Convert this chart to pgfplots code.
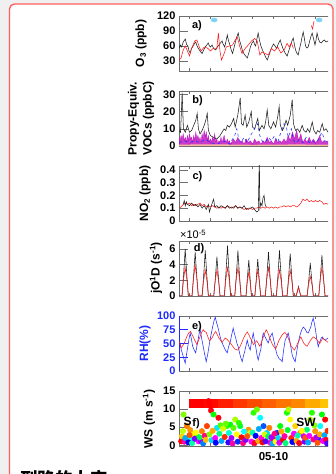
\documentclass[border=0pt]{standalone}
\usepackage{fontspec}
\setmainfont{Liberation Sans}
\newfontfamily\cjk{Noto Sans CJK SC}
\usepackage{pgfplots}
\pgfplotsset{compat=1.18}

\definecolor{pagegray}{HTML}{F0F0F0}
\definecolor{framered}{HTML}{FF5C5C}
\definecolor{axgray}{HTML}{6E6E6E}
\definecolor{obsblack}{HTML}{1E1E1E}
\definecolor{modred}{HTML}{FF1A1A}
\definecolor{vocmag}{HTML}{C21BC2}
\definecolor{vocpeach}{HTML}{F4B8A0}
\definecolor{flagblue}{HTML}{7FD3F2}
\definecolor{rhblue}{HTML}{1F2BFF}

\newcommand{\tickfont}{\fontsize{11}{12}\selectfont\bfseries}
\newcommand{\labfont}{\fontsize{12}{15}\selectfont\bfseries}

\pgfplotsset{
  colormap={winddir}{rgb255=(255,0,0) rgb255=(255,255,0) rgb255=(0,255,0)
    rgb255=(0,255,255) rgb255=(0,0,255) rgb255=(255,0,255) rgb255=(255,0,0)},
  panel/.style={
    scale only axis, width=162.75pt, height=55pt,
    anchor=south west,
    xmin=1, xmax=16.5,
    separate axis lines,
    axis line style={axgray, line width=0.5pt},
    xtick={2,4,...,16}, xticklabels={},
    tick align=inside,
    xtick style={axgray, line width=0.5pt, /pgfplots/major tick length=3pt},
    ytick style={axgray, line width=0.5pt, /pgfplots/major tick length=8.5pt},
    yticklabel style={font=\tickfont, text=black},
    xticklabel style={font=\tickfont},
    every axis plot/.append style={line width=0.55pt},
  },
}

\begin{document}
\begin{tikzpicture}
\useasboundingbox (0,0) rectangle (336pt,474pt);
\fill[pagegray] (0,0) rectangle (336pt,474pt);
\filldraw[fill=white, draw=framered, line width=1.3pt, rounded corners=5pt]
  (9.5pt,-20pt) rectangle (333pt,470pt);

\begin{scope}
\clip (0,0) rectangle (328pt,474pt);

% ---------- a) ozone ----------
\begin{axis}[panel, at={(179pt,403pt)}, ymin=10, ymax=120,
  ytick={30,60,90,120}, yticklabels={30,60,90,120}]
\addplot[obsblack] table {
1.00 55
1.12 62
1.25 58
1.40 68
1.60 74
1.72 63
1.85 60
1.95 50
2.07 46
2.18 55
2.30 58
2.45 64
2.60 68
2.72 60
2.85 55
3.00 50
3.20 45
3.35 52
3.50 58
3.65 62
3.78 66
3.90 60
4.00 58
4.15 62
4.30 55
4.50 52
4.65 58
4.80 62
4.95 66
5.10 70
5.22 63
5.35 58
5.48 70
5.60 82
5.72 70
5.85 62
5.97 52
6.10 45
6.22 55
6.35 66
6.50 78
6.64 86
6.76 72
6.90 62
7.05 50
7.20 44
7.35 40
7.50 36
7.65 46
7.80 58
7.95 66
8.10 70
8.20 63
8.30 60
8.42 74
8.54 86
8.66 72
8.80 60
8.95 52
9.10 45
9.25 38
9.40 32
9.55 40
9.70 50
9.85 58
10.00 64
10.15 60
10.30 55
10.45 64
10.64 72
10.78 62
10.90 55
11.10 46
11.30 40
11.45 50
11.60 60
11.75 70
11.88 76
12.00 62
12.10 52
12.22 46
12.35 42
12.48 55
12.60 65
12.72 78
12.83 88
12.95 74
13.05 60
13.18 56
13.30 58
13.42 68
13.55 78
13.68 86
13.80 76
13.95 62
14.05 72
14.15 86
14.28 74
14.40 68
14.55 66
14.70 70
14.85 72
15.00 68
15.20 70
15.50 68
};
\addplot[modred] table {
1.00 32
1.20 36
1.40 52
1.60 60
1.80 50
2.00 40
2.20 55
2.50 70
2.70 72
2.90 60
3.10 50
3.40 58
3.70 56
4.00 50
4.30 56
4.60 55
4.75 86
4.90 50
5.05 32
5.30 45
5.50 58
5.80 60
6.10 62
6.35 72
6.55 78
6.80 58
7.00 45
7.30 55
7.60 62
7.90 70
8.20 75
8.45 70
8.70 42
8.90 48
9.20 45
9.50 42
9.80 55
10.10 50
10.40 58
10.70 46
11.00 52
11.30 65
11.50 58
11.70 66
11.90 55
};
\addplot[modred] table {
13.60 101
13.72 94
13.86 110
};
\addplot[only marks, mark=*, mark size=2pt, color=flagblue,
  mark options={xscale=1.5, draw=flagblue, fill=flagblue}]
  coordinates {(4.35,112) (14.35,112)};
\end{axis}

% ---------- b) propylene-equivalent VOCs ----------
\begin{axis}[panel, at={(179pt,328pt)}, ymin=0, ymax=32,
  ytick={0,10,20,30}, yticklabels={0,10,20,30}]
\addplot[vocmag, fill=vocmag, fill opacity=0.85, line width=0.4pt] table {
1.0 5
1.1 3
1.2 6
1.3 4
1.4 7
1.5 3
1.6 5
1.7 2
1.8 6
1.9 3
2.0 7
2.1 4
2.2 5
2.3 2
2.4 6
2.5 3
2.6 8
2.7 4
2.8 6
2.9 3
3.0 5
3.1 2
3.2 7
3.3 4
3.4 9
3.5 5
3.6 8
3.7 3
3.8 6
3.9 2
4.0 4
4.1 2
4.2 5
4.3 3
4.4 7
4.5 2
4.6 4
4.7 1
4.8 3
4.9 2
5.0 5
5.1 2
5.2 4
5.3 6
5.4 3
5.5 2
5.6 4
5.7 2
5.8 3
5.9 1
6.0 2
6.2 4
6.4 2
6.6 5
6.8 2
7.0 3
7.2 1
7.4 4
7.6 2
7.8 3
8.0 1
8.2 4
8.4 2
8.6 3
8.8 1
9.0 3
9.2 2
9.4 5
9.6 2
9.8 3
10.0 1
10.2 4
10.4 2
10.6 3
10.8 2
11.0 4
11.2 2
11.4 6
11.6 3
11.8 8
12.0 4
12.2 9
12.4 3
12.6 7
12.8 2
13.0 4
13.2 2
13.4 5
13.6 2
13.8 4
14.0 2
14.2 3
14.4 6
14.6 2
14.8 3
15.0 2
15.2 3
15.5 2
} \closedcycle;
\addplot[draw=none, fill=vocpeach] table {
1.0 0.8
4.0 1.0
8.0 0.7
12.0 0.9
15.5 0.8
} \closedcycle;
\addplot[obsblack] table {
1.00 9
1.15 8
1.30 31
1.42 10
1.60 8
1.80 12
2.00 8
2.20 9
2.40 12
2.60 15
2.73 19
2.85 10
3.00 7
3.20 9
3.40 12
3.55 15
3.69 19
3.80 9
4.00 6
4.30 5
4.60 4
4.90 6
5.10 8
5.30 10
5.45 9
5.60 12
5.80 11
6.00 13
6.20 16
6.35 11
6.60 18
6.83 28
6.95 13
7.10 12
7.30 18
7.45 11
7.65 14
7.88 20
8.00 11
8.20 10
8.35 13
8.50 16
8.65 9
8.90 12
9.10 10
9.25 14
9.40 21
9.55 12
9.75 10
10.00 14
10.20 11
10.40 17
10.54 23
10.65 12
10.85 9
11.00 11
11.20 15
11.35 12
11.60 18
11.78 27
11.90 13
12.10 9
12.30 10
12.50 8
12.73 12
12.90 9
13.10 8
13.25 10
13.45 8
13.69 14
13.85 9
14.05 7
14.20 9
14.40 8
14.64 13
14.80 9
15.00 10
15.20 8
15.50 9
};
\addplot[rhblue, dashed] table {
1.0 2
1.5 3
2.0 2
2.5 3
3.0 2
3.5 4
4.0 2
4.5 1
5.0 2
5.5 3
5.8 1
6.0 3
6.3 6
6.5 10
6.7 4
6.9 2
7.2 5
7.5 2
7.8 6
8.1 9
8.5 13
8.7 6
8.9 3
9.2 2
9.5 5
9.8 3
10.1 6
10.4 2
10.7 8
11.0 13
11.2 12
11.4 5
11.7 10
11.9 3
12.2 2
12.5 4
12.8 2
13.1 5
13.4 2
13.7 3
14.0 2
14.3 4
14.6 8
14.9 3
15.2 2
15.5 3
};
\end{axis}

% ---------- c) NO2 ----------
\begin{axis}[panel, at={(179pt,253pt)}, ymin=0, ymax=0.43,
  ytick={0,0.1,0.2,0.3,0.4}, yticklabels={0,0.1,0.2,0.3,0.4}]
\addplot[modred] table {
1.0 0.10
1.2 0.11
1.4 0.13
1.6 0.14
1.8 0.13
2.0 0.14
2.2 0.12
2.4 0.13
2.6 0.12
2.8 0.13
3.0 0.14
3.2 0.12
3.4 0.13
3.6 0.11
3.8 0.12
4.0 0.11
4.2 0.12
4.4 0.11
4.6 0.10
4.8 0.11
5.0 0.10
5.2 0.11
5.4 0.10
5.6 0.12
5.8 0.11
6.0 0.10
6.2 0.11
6.4 0.12
6.6 0.10
6.8 0.11
7.0 0.10
7.2 0.09
7.4 0.10
7.6 0.09
7.8 0.10
8.0 0.09
8.2 0.10
8.4 0.10
8.6 0.11
8.8 0.10
9.0 0.11
9.2 0.10
9.4 0.11
9.6 0.10
9.8 0.11
10.0 0.10
10.2 0.11
10.4 0.10
10.6 0.11
10.8 0.11
11.0 0.12
11.2 0.11
11.4 0.12
11.6 0.11
11.8 0.12
12.0 0.12
12.2 0.11
12.4 0.12
12.6 0.14
12.8 0.17
13.0 0.16
13.2 0.17
13.4 0.15
13.6 0.16
13.8 0.15
14.0 0.16
14.2 0.15
14.4 0.16
14.6 0.15
14.8 0.13
15.0 0.14
15.2 0.13
15.5 0.14
};
\addplot[obsblack] table {
1.40 0.13
1.50 0.16
1.60 0.12
1.70 0.15
1.80 0.13
2.00 0.12
2.20 0.14
2.40 0.12
2.60 0.13
2.80 0.11
3.00 0.13
3.20 0.10
3.40 0.12
3.60 0.09
3.80 0.13
3.90 0.07
4.00 0.10
4.20 0.15
4.30 0.17
4.40 0.11
4.60 0.12
4.80 0.10
5.00 0.12
5.20 0.11
5.40 0.10
5.60 0.12
5.80 0.10
6.00 0.11
6.20 0.10
6.40 0.12
6.60 0.10
6.80 0.11
7.00 0.10
7.20 0.12
7.40 0.09
7.60 0.10
7.80 0.10
8.00 0.11
8.20 0.09
8.40 0.07
8.55 0.08
8.65 0.50
8.70 0.10
8.80 0.14
8.90 0.12
9.00 0.18
9.10 0.20
9.20 0.13
9.30 0.11
};
\end{axis}

% ---------- d) j(O1D) ----------
\begin{axis}[panel, at={(179pt,178pt)}, ymin=0, ymax=7,
  ytick={0,2,4,6}, yticklabels={0,2,4,6}]
\addplot[obsblack] coordinates {
(1.0,0)
(1.29,0)(1.44,2.7)(1.59,6.0)(1.74,2.7)(1.89,0)
(2.24,0)(2.39,2.5)(2.54,5.6)(2.69,2.5)(2.84,0)
(3.20,0)(3.35,2.6)(3.50,5.8)(3.65,2.6)(3.80,0)
(4.31,0)(4.46,2.25)(4.61,5.0)(4.76,2.25)(4.91,0)
(5.32,0)(5.47,2.9)(5.62,6.4)(5.77,2.9)(5.92,0)
(6.31,0)(6.46,2.6)(6.61,5.8)(6.76,2.6)(6.91,0)
(7.38,0)(7.50,2.1)(7.65,4.6)(7.78,2.1)(7.90,0)
(8.22,0)(8.36,2.1)(8.50,4.7)(8.64,2.1)(8.78,0)
(9.22,0)(9.37,2.5)(9.52,5.6)(9.67,2.5)(9.82,0)
(10.27,0)(10.42,2.6)(10.57,5.8)(10.72,2.6)(10.87,0)
(11.29,0)(11.44,2.4)(11.59,5.4)(11.74,2.4)(11.89,0)
(12.15,0)(12.28,0.6)(12.38,1.2)(12.48,0.6)(12.60,0)
(13.20,0)(13.35,1.9)(13.50,4.2)(13.65,1.9)(13.80,0)
(14.31,0)(14.46,2.3)(14.61,5.2)(14.76,2.3)(14.91,0)
(15.5,0)
};
\addplot[modred] coordinates {
(1.0,0)
(1.29,0)(1.42,2.0)(1.59,3.6)(1.76,2.0)(1.89,0)
(2.24,0)(2.37,2.1)(2.54,3.9)(2.71,2.1)(2.84,0)
(3.20,0)(3.33,1.8)(3.50,3.3)(3.67,1.8)(3.80,0)
(4.31,0)(4.44,1.8)(4.61,3.3)(4.78,1.8)(4.91,0)
(5.32,0)(5.45,2.0)(5.62,3.6)(5.79,2.0)(5.92,0)
(6.31,0)(6.44,2.0)(6.61,3.6)(6.78,2.0)(6.91,0)
(7.38,0)(7.50,1.7)(7.65,3.1)(7.78,1.7)(7.90,0)
(8.22,0)(8.35,1.8)(8.50,3.3)(8.65,1.8)(8.78,0)
(9.22,0)(9.35,2.0)(9.52,3.6)(9.69,2.0)(9.82,0)
(10.27,0)(10.40,1.8)(10.57,3.3)(10.74,1.8)(10.87,0)
(11.29,0)(11.42,1.8)(11.59,3.3)(11.76,1.8)(11.89,0)
(12.15,0)(12.28,0.6)(12.38,1.1)(12.48,0.6)(12.60,0)
(13.20,0)(13.33,1.4)(13.50,2.5)(13.67,1.4)(13.80,0)
(14.31,0)(14.44,2.0)(14.61,3.6)(14.78,2.0)(14.91,0)
(15.5,0)
};
\end{axis}

% ---------- e) relative humidity ----------
\begin{axis}[panel, at={(179pt,103pt)}, ymin=0, ymax=100,
  ytick={0,25,50,75,100}, yticklabels={0,25,50,75,100},
  y axis line style={rhblue, line width=0.5pt},
  ytick style={rhblue, line width=0.5pt, /pgfplots/major tick length=8.5pt},
  yticklabel style={font=\tickfont, text=rhblue}]
\addplot[rhblue] table {
1.00 45
1.11 50
1.22 38
1.35 30
1.47 22
1.59 14
1.70 28
1.80 40
1.95 58
2.07 69
2.18 58
2.30 45
2.45 38
2.59 33
2.70 45
2.80 55
2.92 68
3.02 75
3.15 60
3.30 45
3.45 30
3.59 17
3.75 32
3.90 50
4.05 66
4.20 80
4.32 90
4.45 98
4.58 88
4.70 80
4.82 70
4.92 62
5.08 52
5.25 45
5.42 38
5.59 33
5.72 44
5.88 53
6.02 66
6.16 78
6.28 68
6.40 60
6.52 50
6.64 44
6.80 30
6.92 22
7.02 17
7.12 26
7.25 35
7.38 46
7.50 56
7.62 46
7.78 38
7.92 55
8.07 69
8.18 56
8.30 45
8.42 30
8.54 20
8.66 30
8.80 40
8.92 58
9.02 69
9.15 64
9.25 60
9.38 55
9.50 51
9.68 62
9.88 69
10.00 58
10.10 50
10.22 38
10.35 29
10.55 22
10.70 20
10.83 17
10.95 36
11.11 56
11.25 62
11.40 69
11.50 60
11.60 50
11.70 38
11.78 29
11.92 22
12.07 17
12.20 34
12.35 51
12.48 62
12.60 70
12.72 76
12.83 80
12.95 78
13.05 75
13.18 70
13.30 69
13.42 74
13.55 80
13.67 90
13.78 96
13.90 86
14.00 75
14.12 58
14.26 44
14.35 50
14.45 55
14.55 60
14.64 62
14.78 58
14.92 56
15.05 58
15.21 60
15.50 58
};
\addplot[modred] table {
1.00 55
1.10 48
1.20 42
1.35 46
1.50 50
1.65 58
1.80 65
1.95 70
2.10 72
2.25 66
2.40 60
2.55 54
2.70 48
2.85 55
3.00 62
3.15 70
3.30 75
3.45 72
3.60 70
3.75 62
3.90 55
4.05 58
4.20 62
4.35 68
4.50 72
4.65 66
4.80 60
4.95 56
5.10 52
5.25 56
5.40 60
5.55 58
5.70 55
5.85 52
6.00 48
6.15 44
6.30 40
6.45 39
6.60 38
6.75 42
6.90 48
7.05 55
7.20 62
7.35 67
7.50 71
7.65 66
7.80 60
7.95 54
8.10 48
8.25 52
8.40 55
8.55 50
8.70 45
8.85 52
9.00 60
9.15 68
9.30 75
9.45 70
9.60 62
9.75 55
9.90 48
10.05 44
10.20 40
10.35 47
10.50 55
10.65 60
10.80 65
10.95 68
11.10 70
11.25 66
11.40 60
11.55 52
11.70 45
11.85 41
12.00 38
12.15 44
12.30 50
12.45 56
12.60 62
12.75 56
12.90 50
13.05 47
13.20 45
13.35 50
13.50 55
13.65 59
13.80 62
13.95 60
14.10 58
14.25 54
14.40 50
14.55 55
14.70 60
14.85 57
15.00 55
15.20 52
15.50 54
};
\end{axis}

% ---------- f) wind speed, coloured by direction ----------
\begin{axis}[panel, at={(179pt,28pt)}, ymin=-0.2, ymax=15,
  ytick={0,5,10,15}, yticklabels={0,5,10,15},
  xticklabels={,,,,05-10,,,},
  xticklabel style={font=\fontsize{11.5}{12}\selectfont\bfseries, yshift=-3pt},
  colormap name=winddir, point meta min=0, point meta max=360]
% direction scale strip
\fill[color={rgb,255:red,255;green,0;blue,0}]   (axis cs:1.97,10.2) rectangle (axis cs:3.35,12.7);
\fill[color={rgb,255:red,255;green,10;blue,0}]  (axis cs:3.35,10.2) rectangle (axis cs:4.73,12.7);
\fill[color={rgb,255:red,255;green,30;blue,0}]  (axis cs:4.73,10.2) rectangle (axis cs:6.11,12.7);
\fill[color={rgb,255:red,255;green,55;blue,0}]  (axis cs:6.11,10.2) rectangle (axis cs:7.50,12.7);
\fill[color={rgb,255:red,255;green,75;blue,0}]  (axis cs:7.50,10.2) rectangle (axis cs:8.88,12.7);
\fill[color={rgb,255:red,255;green,95;blue,0}]  (axis cs:8.88,10.2) rectangle (axis cs:10.26,12.7);
\fill[color={rgb,255:red,255;green,115;blue,0}] (axis cs:10.26,10.2) rectangle (axis cs:11.64,12.7);
\fill[color={rgb,255:red,255;green,135;blue,0}] (axis cs:11.64,10.2) rectangle (axis cs:13.02,12.7);
\fill[color={rgb,255:red,255;green,170;blue,0}] (axis cs:13.02,10.2) rectangle (axis cs:14.40,12.7);
\fill[color={rgb,255:red,255;green,195;blue,0}] (axis cs:14.40,10.2) rectangle (axis cs:15.78,12.7);
\addplot[scatter, only marks, mark=*, mark size=2.7pt,
  scatter src=explicit,
  scatter/use mapped color={draw=mapped color, fill=mapped color}]
  table[x=x, y=y, meta=h] {
x y h
1.21 1.1 0
1.28 2.5 50
1.37 3.9 75
1.43 8.5 90
1.75 5.3 30
2.07 4.2 35
2.13 1.6 180
2.38 3.0 55
2.70 2.5 110
2.86 1.1 300
3.11 1.1 275
3.18 3.9 30
3.66 5.3 15
3.81 12.2 0
3.97 10.9 0
4.05 9.6 355
4.29 8.5 120
4.76 7.6 355
4.61 4.8 185
5.56 5.3 110
5.88 5.7 120
6.19 4.8 100
6.35 7.1 80
6.83 5.3 130
7.62 4.3 35
7.78 3.4 55
8.10 9.0 110
8.42 9.9 95
8.73 7.6 180
9.05 5.3 220
9.37 3.4 190
9.69 0.7 310
10.00 1.6 350
10.32 3.4 230
10.64 5.3 120
11.28 9.0 115
11.43 9.9 80
11.59 7.1 60
12.07 5.3 50
12.54 3.4 35
12.86 2.5 290
13.18 4.3 150
13.50 7.1 80
13.66 9.0 110
13.97 3.9 35
14.29 1.6 230
14.45 5.3 180
14.61 8.5 120
14.92 7.1 0
1.50 1.0 320
1.60 2.0 200
1.90 0.8 240
2.00 2.8 20
2.25 0.6 160
2.50 1.8 270
2.60 3.5 60
2.95 2.2 140
3.30 0.5 210
3.45 2.6 330
3.55 1.5 45
3.90 3.0 90
4.10 1.4 190
4.20 4.0 40
4.45 2.0 300
4.50 0.7 240
4.85 3.2 150
4.95 5.5 100
5.05 1.2 200
5.20 4.6 70
5.35 2.3 10
5.45 6.0 95
5.70 0.8 250
5.75 3.4 170
6.00 2.0 280
6.10 0.5 320
6.50 3.0 60
6.60 1.0 230
6.70 6.2 110
6.95 2.2 0
7.10 0.6 330
7.20 3.8 180
7.35 1.5 270
7.50 2.5 20
7.90 1.0 300
8.00 3.5 160
8.20 0.6 350
8.30 2.6 240
8.55 1.2 40
8.60 4.5 200
8.85 2.0 310
8.95 0.8 0
9.15 3.0 70
9.25 1.1 260
9.50 2.4 140
9.60 4.8 30
9.80 2.2 280
9.90 0.5 200
10.10 3.2 330
10.20 1.0 60
10.45 2.0 190
10.55 0.7 290
10.75 3.8 40
10.90 1.5 0
11.05 2.5 320
11.15 0.6 150
11.35 4.2 130
11.70 2.0 10
11.80 0.9 240
11.95 3.2 300
12.20 1.2 40
12.30 2.7 160
12.45 0.6 350
12.70 4.0 60
12.95 1.0 270
13.05 2.1 20
13.30 0.8 200
13.40 2.6 300
13.80 1.6 330
13.90 5.5 90
14.10 2.2 280
14.20 0.7 20
14.40 3.0 40
14.70 1.2 300
14.85 2.8 200
15.00 1.5 350
15.15 4.0 10
15.10 0.5 260
};
\end{axis}
\end{scope}

% axis titles
\node[rotate=90, font=\labfont] at (141pt,430.5pt) {O\textsubscript{3} (ppb)};
\node[rotate=90, font=\labfont, align=center] at (141pt,355.5pt) {Propy-Equiv.\\VOCs (ppbC)};
\node[rotate=90, font=\labfont] at (145pt,280.5pt) {NO\textsubscript{2} (ppb)};
\node[rotate=90, font=\labfont] at (156pt,206pt) {jO\textsuperscript{1}D (s\textsuperscript{-1})};
\node[rotate=90, font=\labfont, text=rhblue] at (145pt,130.5pt) {RH(\%)};
\node[rotate=90, font=\labfont] at (149pt,55pt) {WS (m s\textsuperscript{-1})};
\node[anchor=base west, font=\fontsize{11}{12}\selectfont, inner sep=0pt] at (180pt,235pt) {×10\textsuperscript{-5}};

% panel tags
\node[font=\tickfont] at (197pt,448pt) {a)};
\node[font=\tickfont] at (197.5pt,373.5pt) {b)};
\node[font=\tickfont] at (197.5pt,297.5pt) {c)};
\node[font=\tickfont] at (199pt,225pt) {d)};
\node[font=\tickfont] at (197pt,147pt) {e)};
\node[font=\labfont] at (187.5pt,53pt) {S};
\node[font=\tickfont] at (196pt,50pt) {f)};
\node[font=\labfont] at (306pt,51.3pt) {SW};

% caption text running below the page edge
\node[anchor=base west, inner sep=0pt, font={\cjk\bfseries\fontsize{17.5}{18}\selectfont}] at (20pt,-11pt) {到路的大定};
\end{tikzpicture}
\end{document}
